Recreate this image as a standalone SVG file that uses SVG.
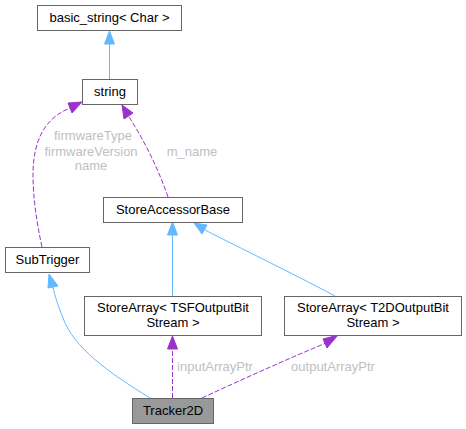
<svg xmlns="http://www.w3.org/2000/svg" width="466" height="429" viewBox="0 0 466 429">
<style>
.box{fill:#ffffff;stroke:#666666;stroke-width:1}
.t{font-family:"Liberation Sans",Arial,sans-serif;font-size:13px;fill:#000000;text-anchor:middle}
.lbl{font-family:"Liberation Sans",Arial,sans-serif;font-size:13px;fill:#c0c0c0;text-anchor:middle}
.inh{fill:none;stroke:#63b8ff;stroke-width:1}
.use{fill:none;stroke:#9a32cd;stroke-width:1;stroke-dasharray:5,2}
.ah{fill:#63b8ff;stroke:#63b8ff}
.ap{fill:#9a32cd;stroke:#9a32cd}
</style>
<g id="edges">
<path class="inh" d="M109.5,79 V44"/>
<polygon class="ah" points="104.5,44 109.5,31 114.5,44"/>
<path class="use" d="M42,247 C36,220 33,195 33,175 C33,140 45,118 70,108"/>
<polygon class="ap" points="68,103 82,102 72,113"/>
<path class="use" d="M168,197 C158,168 144,140 129,117"/>
<polygon class="ap" points="124,119 122,105 133,113"/>
<path class="inh" d="M172.5,296 V235"/>
<polygon class="ah" points="167.5,235 172.5,222 177.5,235"/>
<path class="inh" d="M335,296 C290,272 240,248 205,230"/>
<polygon class="ah" points="202,234 194,223 207,225"/>
<path class="inh" d="M150,398 C108,372 74,348 63,318 C58,305 55,297 53,287"/>
<polygon class="ah" points="48,288 49,274 58,286"/>
<path class="use" d="M172.5,398 V349"/>
<polygon class="ap" points="167.5,349 172.5,336 177.5,349"/>
<path class="use" d="M202,398 C245,378 290,358 326,343"/>
<polygon class="ap" points="323,339 338,335 327,348"/>
<text class="lbl" x="93" y="140">firmwareType</text>
<text class="lbl" x="91" y="155.5">firmwareVersion</text>
<text class="lbl" x="91" y="170">name</text>
<text class="lbl" x="192" y="155.5">m_name</text>
<text class="lbl" x="215" y="370.5">inputArrayPtr</text>
<text class="lbl" x="333" y="370.5">outputArrayPtr</text>
</g>
<g id="basic_string">
<rect class="box" x="37.5" y="5.5" width="144" height="25"/>
<text class="t" x="109.5" y="22">basic_string&lt; Char &gt;</text>
</g>
<g id="string">
<rect class="box" x="82.5" y="79.5" width="55" height="25"/>
<text class="t" x="110" y="96">string</text>
</g>
<g id="StoreAccessorBase">
<rect class="box" x="103.5" y="197.5" width="139" height="25"/>
<text class="t" x="173" y="214">StoreAccessorBase</text>
</g>
<g id="SubTrigger">
<rect class="box" x="5.5" y="247.5" width="84" height="25"/>
<text class="t" x="47.5" y="264">SubTrigger</text>
</g>
<g id="StoreArrayTSF">
<rect class="box" x="84.5" y="296.5" width="177" height="39"/>
<text class="t" x="173" y="312">StoreArray&lt; TSFOutputBit</text>
<text class="t" x="173" y="327">Stream &gt;</text>
</g>
<g id="StoreArrayT2D">
<rect class="box" x="284.5" y="296.5" width="177" height="39"/>
<text class="t" x="373" y="312">StoreArray&lt; T2DOutputBit</text>
<text class="t" x="373" y="327">Stream &gt;</text>
</g>
<g id="Tracker2D">
<rect x="132.5" y="398.5" width="81" height="25" fill="#999999" stroke="#666666"/>
<text class="t" x="173" y="415">Tracker2D</text>
</g>
</svg>
